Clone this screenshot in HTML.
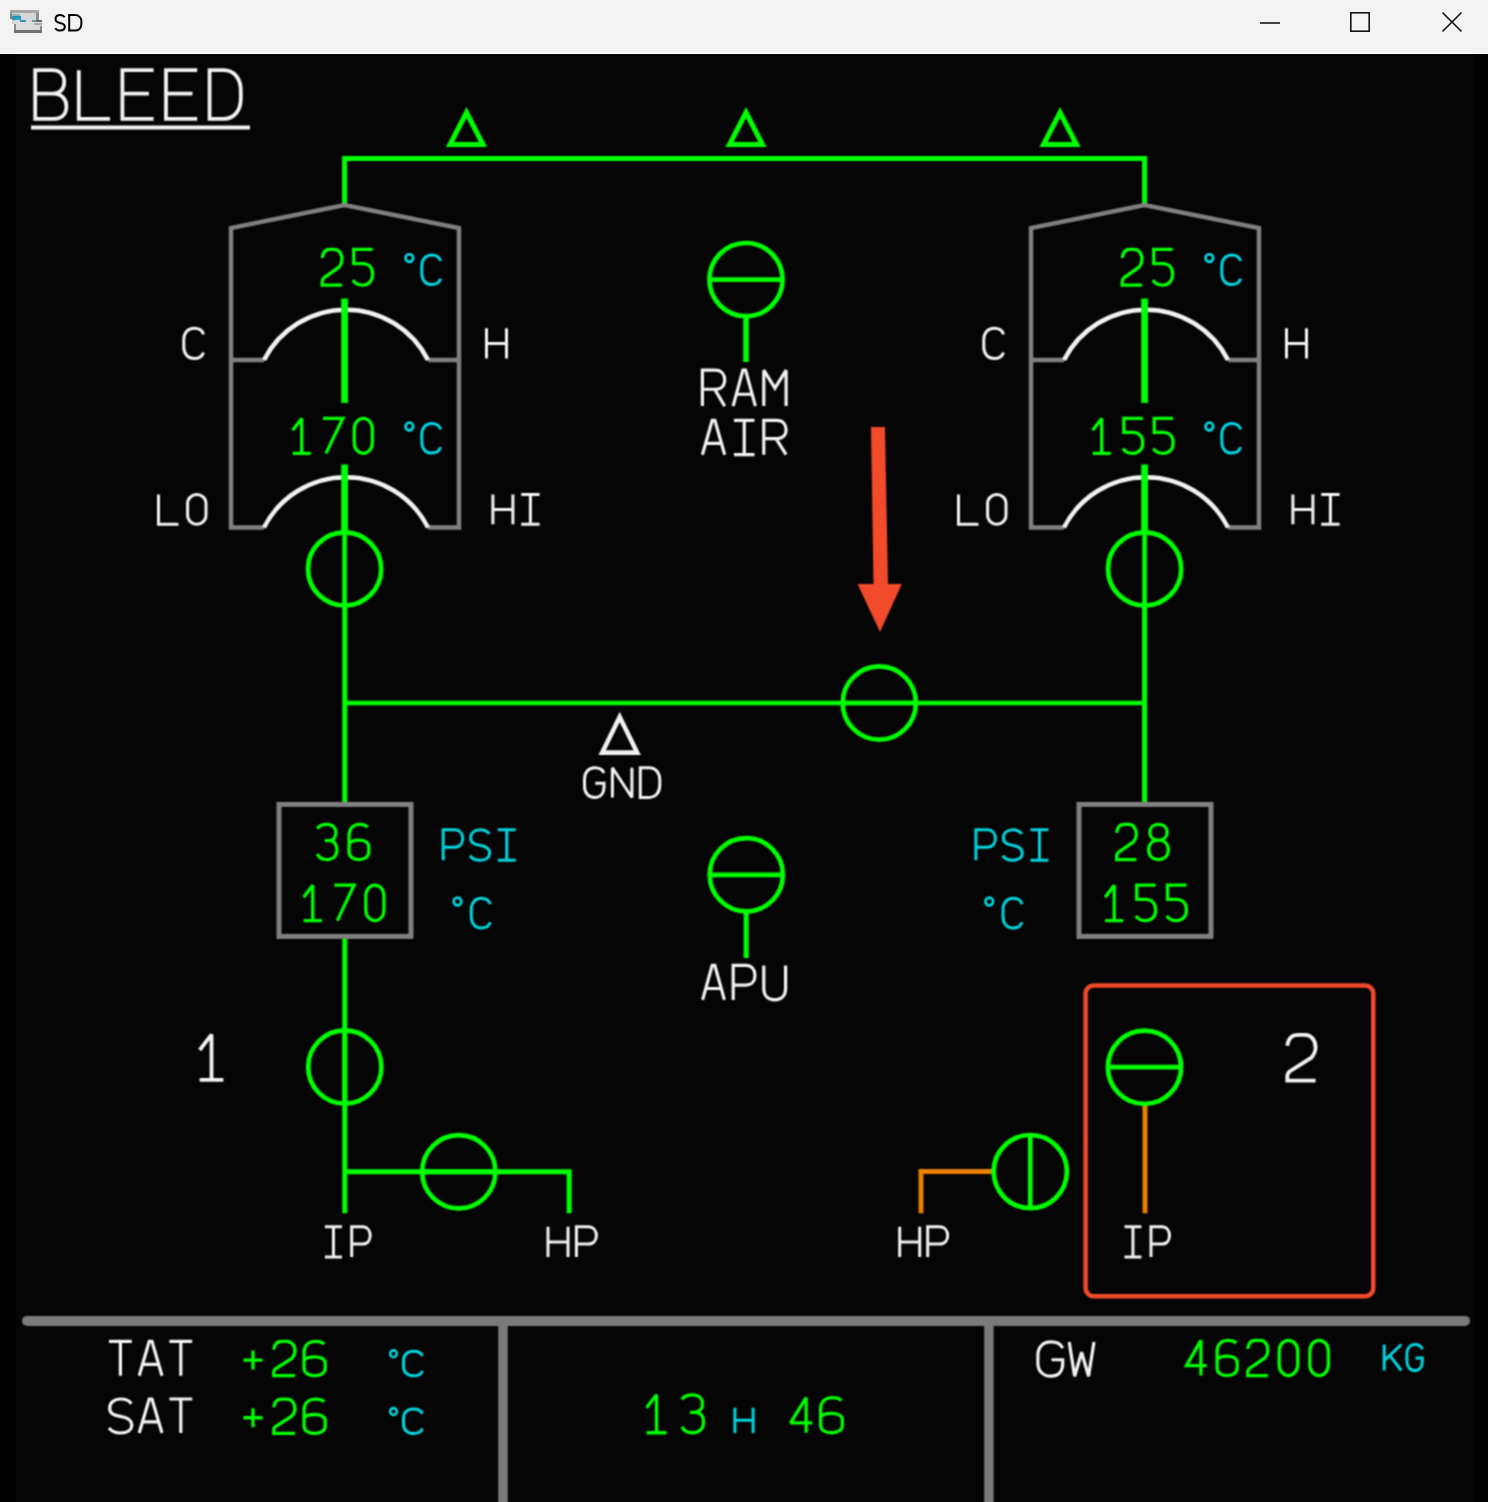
<!DOCTYPE html>
<html><head><meta charset="utf-8"><style>
html,body{margin:0;padding:0;background:#050505;}
body{width:1488px;height:1502px;overflow:hidden;}
svg{display:block;}
</style></head><body>
<svg width="1488" height="1502" viewBox="0 0 1488 1502">
<defs><filter id="soft" x="0" y="0" width="1488" height="1502" filterUnits="userSpaceOnUse" color-interpolation-filters="sRGB"><feConvolveMatrix order="3" kernelMatrix="1 2 1 2 4 2 1 2 1" divisor="16" edgeMode="duplicate" preserveAlpha="false"/></filter></defs>
<rect x="0" y="0" width="1488" height="53" fill="#f3f3f3"/>
<rect x="0" y="53" width="1488" height="1" fill="#ffffff"/>
<rect x="0" y="54" width="1488" height="1448" fill="#050505"/>
<rect x="0" y="54" width="16" height="1448" fill="#010101"/>
<rect x="1474" y="54" width="14" height="1448" fill="#010101"/>
<g shape-rendering="crispEdges"><rect x="10" y="10" width="29" height="3" fill="#a4a4a4"/><rect x="12" y="13" width="26" height="11" fill="#d6d6d6"/><rect x="10" y="13" width="2" height="6" fill="#858585"/><rect x="36" y="13" width="3" height="9" fill="#8c8c8c"/><rect x="12" y="14" width="8" height="2" fill="#9ab4c4"/><rect x="12" y="16" width="9" height="4" fill="#2a92b8"/><rect x="16" y="18" width="4" height="2" fill="#20b0c8"/><rect x="20" y="20" width="6" height="2" fill="#3a90b0"/><rect x="32" y="20" width="4" height="2" fill="#6a9ab0"/><rect x="36" y="20" width="6" height="3" fill="#6a6a6a"/><rect x="14" y="22" width="28" height="8" fill="#dcdcdc"/><rect x="34" y="23" width="8" height="2" fill="#a8a8a8"/><rect x="14" y="24" width="2" height="6" fill="#8a8a8a"/><rect x="40" y="26" width="2" height="4" fill="#8a8a8a"/><rect x="14" y="30" width="28" height="3" fill="#707070"/></g>
<g fill="none"><path d="M 64.61,17.18 C 63.66,15.62 62.14,15 60.24,15 C 57.39,15 55.58,16.72 55.58,19.21 C 55.58,21.86 57.67,22.49 60.05,22.96 C 62.71,23.42 64.8,24.36 64.8,26.86 C 64.8,29.2 62.9,30.6 60.05,30.6 C 57.96,30.6 56.25,29.82 55.3,28.26" stroke="#000" stroke-width="2" stroke-miterlimit="2"/><path d="M 69.2,15 L 69.2,30.6 L 74.69,30.6 C 78.96,30.6 81.4,27.79 81.4,24.05 L 81.4,21.55 C 81.4,17.81 78.96,15 74.69,15 Z" stroke="#000" stroke-width="2" stroke-miterlimit="2"/></g>
<path d="M1260,23 L1280,23" stroke="#111" stroke-width="1.6" fill="none"/>
<rect x="1350.8" y="12.8" width="18.4" height="18.4" stroke="#111" stroke-width="1.6" fill="none"/>
<path d="M1442.5,12.5 L1461.5,31.5 M1461.5,12.5 L1442.5,31.5" stroke="#111" stroke-width="1.6" fill="none"/>
<g filter="url(#soft)"><g fill="none" stroke-linecap="butt">
<path d="M 35.2,93.58 L 53.3,93.58 C 61.72,93.58 66.4,99.42 66.4,106.24 C 66.4,114.03 61.72,118.9 53.92,118.9 L 35.2,118.9 L 35.2,70.2 L 52.36,70.2 C 60.16,70.2 64.22,75.07 64.22,81.89 C 64.22,88.71 60.16,93.58 53.3,93.58 M 78.8,70.2 L 78.8,118.9 L 110,118.9 M 153.6,70.2 L 122.4,70.2 L 122.4,118.9 L 153.6,118.9 M 122.4,93.58 L 148.92,93.58 M 197.2,70.2 L 166,70.2 L 166,118.9 L 197.2,118.9 M 166,93.58 L 192.52,93.58 M 209.6,70.2 L 209.6,118.9 L 223.64,118.9 C 234.56,118.9 240.8,110.13 240.8,98.45 L 240.8,90.65 C 240.8,78.97 234.56,70.2 223.64,70.2 Z" stroke="#f2f2f2" stroke-width="3.8" stroke-miterlimit="2"/>
<path d="M31,127.6 L250,127.6" stroke="#f2f2f2" stroke-width="4"/>
<path d="M344.6,205 L344.6,158.5 L1144.6,158.5 L1144.6,205" stroke="#00ff00" stroke-width="5"/>
<path d="M466.5,112.5 L483,144.5 L450,144.5 Z" stroke="#00ff00" stroke-width="5" stroke-linejoin="miter"/>
<path d="M746,112.5 L762.5,144.5 L729.5,144.5 Z" stroke="#00ff00" stroke-width="5" stroke-linejoin="miter"/>
<path d="M1060,112.5 L1076.5,144.5 L1043.5,144.5 Z" stroke="#00ff00" stroke-width="5" stroke-linejoin="miter"/>
<path d="M264,527.5 L231,527.5 L231,228 L344.6,205 L459,228 L459,527.5 L428,527.5 M231,360 L264,360 M428,360 L459,360" stroke="#808080" stroke-width="4.5" stroke-linejoin="miter"/><path d="M264,360 A92,92 0 0 1 428,360 M264,527.5 A92,92 0 0 1 428,527.5" stroke="#f2f2f2" stroke-width="4.5"/><path d="M344.6,298.5 L344.6,403 M344.6,464.5 L344.6,531" stroke="#00ff00" stroke-width="6.8"/>
<path d="M1064,527.5 L1031,527.5 L1031,228 L1144.6,205 L1259,228 L1259,527.5 L1228,527.5 M1031,360 L1064,360 M1228,360 L1259,360" stroke="#808080" stroke-width="4.5" stroke-linejoin="miter"/><path d="M1064,360 A92,92 0 0 1 1228,360 M1064,527.5 A92,92 0 0 1 1228,527.5" stroke="#f2f2f2" stroke-width="4.5"/><path d="M1144.6,298.5 L1144.6,403 M1144.6,464.5 L1144.6,531" stroke="#00ff00" stroke-width="6.8"/>
<path d="M 322.25,257.92 C 322.84,252.21 325.6,249.35 329.74,249.35 L 334.46,249.35 C 339,249.35 341.95,253.63 341.95,259.35 C 341.95,262.92 340.96,264.7 339,267.2 L 323.83,277.91 C 322.64,278.98 322.25,280.41 322.25,282.19 L 322.25,285.05 L 341.95,285.05 M 372.65,249.35 L 353.74,249.35 L 353.74,263.63 L 362.8,263.63 C 369.1,263.63 372.65,268.27 372.65,274.34 C 372.65,280.77 368.71,285.05 362.8,285.05 C 358.47,285.05 354.92,283.62 352.95,280.05" stroke="#00ff00" stroke-width="3.3" stroke-miterlimit="2"/>
<path d="M 292.65,430.32 L 301.71,418.45 L 301.71,453.35 M 292.65,453.35 L 310.77,453.35 M 323.05,418.45 L 342.75,418.45 L 326,453.35 M 354.24,428.92 A 9.06,10.47 0 0 1 372.36,428.92 L 372.36,442.88 A 9.06,10.47 0 0 1 354.24,442.88 Z" stroke="#00ff00" stroke-width="3.3" stroke-miterlimit="2"/>
<circle cx="409.4" cy="258" r="3.8" stroke="#00d4de" stroke-width="2.8"/>
<path d="M 440.6,260.84 C 439.47,256.98 436.09,254.9 431.58,254.9 C 425.56,254.9 421.8,259.65 421.8,266.19 L 421.8,273.31 C 421.8,279.85 425.56,284.6 431.58,284.6 C 436.09,284.6 439.47,282.52 440.6,278.66" stroke="#00d4de" stroke-width="3" stroke-miterlimit="2"/>
<circle cx="409.4" cy="426.5" r="3.8" stroke="#00d4de" stroke-width="2.8"/>
<path d="M 440.6,429.34 C 439.47,425.48 436.09,423.4 431.58,423.4 C 425.56,423.4 421.8,428.15 421.8,434.69 L 421.8,441.81 C 421.8,448.35 425.56,453.1 431.58,453.1 C 436.09,453.1 439.47,451.02 440.6,447.16" stroke="#00d4de" stroke-width="3" stroke-miterlimit="2"/>
<path d="M 203.5,334.34 C 202.32,330.41 198.77,328.3 194.04,328.3 C 187.74,328.3 183.8,333.13 183.8,339.78 L 183.8,347.02 C 183.8,353.67 187.74,358.5 194.04,358.5 C 198.77,358.5 202.32,356.39 203.5,352.46" stroke="#f2f2f2" stroke-width="3" stroke-miterlimit="2"/>
<path d="M 486.5,328.3 L 486.5,358.5 M 506.5,328.3 L 506.5,358.5 M 486.5,343.4 L 506.5,343.4" stroke="#f2f2f2" stroke-width="3" stroke-miterlimit="2"/>
<path d="M 158.5,494.5 L 158.5,524.3 L 178.5,524.3 M 187.6,503.44 A 9.2,8.94 0 0 1 206,503.44 L 206,515.36 A 9.2,8.94 0 0 1 187.6,515.36 Z" stroke="#f2f2f2" stroke-width="3" stroke-miterlimit="2"/>
<path d="M 492.9,494.5 L 492.9,524.3 M 512.9,494.5 L 512.9,524.3 M 492.9,509.4 L 512.9,509.4 M 530.4,494.5 L 530.4,524.3 M 521.2,494.5 L 539.6,494.5 M 521.2,524.3 L 539.6,524.3" stroke="#f2f2f2" stroke-width="3" stroke-miterlimit="2"/>
<path d="M 1122.25,257.92 C 1122.84,252.21 1125.6,249.35 1129.74,249.35 L 1134.46,249.35 C 1138.99,249.35 1141.95,253.63 1141.95,259.35 C 1141.95,262.92 1140.96,264.7 1138.99,267.2 L 1123.83,277.91 C 1122.64,278.98 1122.25,280.41 1122.25,282.19 L 1122.25,285.05 L 1141.95,285.05 M 1172.65,249.35 L 1153.74,249.35 L 1153.74,263.63 L 1162.8,263.63 C 1169.1,263.63 1172.65,268.27 1172.65,274.34 C 1172.65,280.77 1168.71,285.05 1162.8,285.05 C 1158.47,285.05 1154.92,283.62 1152.95,280.05" stroke="#00ff00" stroke-width="3.3" stroke-miterlimit="2"/>
<path d="M 1092.65,430.32 L 1101.71,418.45 L 1101.71,453.35 M 1092.65,453.35 L 1110.77,453.35 M 1142.75,418.45 L 1123.84,418.45 L 1123.84,432.41 L 1132.9,432.41 C 1139.2,432.41 1142.75,436.95 1142.75,442.88 C 1142.75,449.16 1138.81,453.35 1132.9,453.35 C 1128.57,453.35 1125.02,451.95 1123.05,448.46 M 1173.15,418.45 L 1154.24,418.45 L 1154.24,432.41 L 1163.3,432.41 C 1169.6,432.41 1173.15,436.95 1173.15,442.88 C 1173.15,449.16 1169.21,453.35 1163.3,453.35 C 1158.97,453.35 1155.42,451.95 1153.45,448.46" stroke="#00ff00" stroke-width="3.3" stroke-miterlimit="2"/>
<circle cx="1209.4" cy="258" r="3.8" stroke="#00d4de" stroke-width="2.8"/>
<path d="M 1240.6,260.84 C 1239.47,256.98 1236.09,254.9 1231.58,254.9 C 1225.56,254.9 1221.8,259.65 1221.8,266.19 L 1221.8,273.31 C 1221.8,279.85 1225.56,284.6 1231.58,284.6 C 1236.09,284.6 1239.47,282.52 1240.6,278.66" stroke="#00d4de" stroke-width="3" stroke-miterlimit="2"/>
<circle cx="1209.4" cy="426.5" r="3.8" stroke="#00d4de" stroke-width="2.8"/>
<path d="M 1240.6,429.34 C 1239.47,425.48 1236.09,423.4 1231.58,423.4 C 1225.56,423.4 1221.8,428.15 1221.8,434.69 L 1221.8,441.81 C 1221.8,448.35 1225.56,453.1 1231.58,453.1 C 1236.09,453.1 1239.47,451.02 1240.6,447.16" stroke="#00d4de" stroke-width="3" stroke-miterlimit="2"/>
<path d="M 1003.5,334.34 C 1002.32,330.41 998.77,328.3 994.04,328.3 C 987.74,328.3 983.8,333.13 983.8,339.78 L 983.8,347.02 C 983.8,353.67 987.74,358.5 994.04,358.5 C 998.77,358.5 1002.32,356.39 1003.5,352.46" stroke="#f2f2f2" stroke-width="3" stroke-miterlimit="2"/>
<path d="M 1286.5,328.3 L 1286.5,358.5 M 1306.5,328.3 L 1306.5,358.5 M 1286.5,343.4 L 1306.5,343.4" stroke="#f2f2f2" stroke-width="3" stroke-miterlimit="2"/>
<path d="M 958.5,494.5 L 958.5,524.3 L 978.5,524.3 M 987.6,503.44 A 9.2,8.94 0 0 1 1006,503.44 L 1006,515.36 A 9.2,8.94 0 0 1 987.6,515.36 Z" stroke="#f2f2f2" stroke-width="3" stroke-miterlimit="2"/>
<path d="M 1292.9,494.5 L 1292.9,524.3 M 1312.9,494.5 L 1312.9,524.3 M 1292.9,509.4 L 1312.9,509.4 M 1330.4,494.5 L 1330.4,524.3 M 1321.2,494.5 L 1339.6,494.5 M 1321.2,524.3 L 1339.6,524.3" stroke="#f2f2f2" stroke-width="3" stroke-miterlimit="2"/>
<circle cx="344.6" cy="568.9" r="36.6" stroke="#00ff00" stroke-width="4.7"/><path d="M344.6,532.3 L344.6,605.5" stroke="#00ff00" stroke-width="4.7"/>
<circle cx="1144.6" cy="568.9" r="36.6" stroke="#00ff00" stroke-width="4.7"/><path d="M1144.6,532.3 L1144.6,605.5" stroke="#00ff00" stroke-width="4.7"/>
<circle cx="746" cy="279.6" r="36.6" stroke="#00ff00" stroke-width="4.7"/><path d="M709.4,279.6 L782.6,279.6" stroke="#00ff00" stroke-width="4.7"/>
<path d="M746,318 L746,362" stroke="#00ff00" stroke-width="5.5"/>
<path d="M 702.4,406.1 L 702.4,370.2 L 715.33,370.2 C 721.36,370.2 724.7,374.51 724.7,379.89 C 724.7,385.28 721.36,389.23 715.33,389.23 L 702.4,389.23 M 714.66,389.23 L 724.7,406.1 M 733.1,406.1 L 742.91,370.2 L 745.59,370.2 L 755.4,406.1 M 737.34,394.25 L 751.16,394.25 M 763.8,406.1 L 763.8,370.2 L 774.95,388.15 L 786.1,370.2 L 786.1,406.1" stroke="#f2f2f2" stroke-width="3.2" stroke-miterlimit="2"/>
<path d="M 702.4,454.7 L 712.21,420.4 L 714.89,420.4 L 724.7,454.7 M 706.64,443.38 L 720.46,443.38 M 744.25,420.4 L 744.25,454.7 M 733.99,420.4 L 754.51,420.4 M 733.99,454.7 L 754.51,454.7 M 763.8,454.7 L 763.8,420.4 L 776.73,420.4 C 782.75,420.4 786.1,424.52 786.1,429.66 C 786.1,434.81 782.75,438.58 776.73,438.58 L 763.8,438.58 M 776.06,438.58 L 786.1,454.7" stroke="#f2f2f2" stroke-width="3.2" stroke-miterlimit="2"/>
<path d="M344.8,605 L344.8,802 M1144.6,605 L1144.6,802" stroke="#00ff00" stroke-width="5"/>
<path d="M344.8,703 L1144.6,703" stroke="#00ff00" stroke-width="4.4"/>
<circle cx="879.3" cy="703" r="36.6" stroke="#00ff00" stroke-width="4.7"/><path d="M842.7,703 L915.9,703" stroke="#00ff00" stroke-width="4.7"/>
<path d="M619.7,717 L637.2,752.6 L602.2,752.6 Z" stroke="#f2f2f2" stroke-width="4.6" stroke-linejoin="miter"/>
<path d="M 604,773.06 C 602.63,769.49 599.32,767.7 594.64,767.7 C 588.4,767.7 584.5,772.47 584.5,779.02 L 584.5,786.18 C 584.5,792.73 588.4,797.5 594.64,797.5 C 600.49,797.5 604,793.33 604,786.77 L 604,783.2 L 595.23,783.2 M 612.4,797.5 L 612.4,767.7 L 631.9,797.5 L 631.9,767.7 M 640.3,767.7 L 640.3,797.5 L 649.07,797.5 C 655.9,797.5 659.8,792.14 659.8,784.98 L 659.8,780.22 C 659.8,773.06 655.9,767.7 649.07,767.7 Z" stroke="#f2f2f2" stroke-width="3" stroke-miterlimit="2"/>
<rect x="279" y="804.4" width="132" height="132" stroke="#808080" stroke-width="5"/>
<rect x="1079" y="804.4" width="132" height="132" stroke="#808080" stroke-width="5"/>
<path d="M 317.25,828.57 C 319.22,825.41 322.77,824.35 327.1,824.35 C 332.62,824.35 335.96,827.87 335.96,832.8 C 335.96,837.37 333.01,840.54 329.07,840.54 L 324.74,840.54 M 329.07,840.54 C 334,840.54 336.95,844.06 336.95,849.69 C 336.95,855.68 333.01,859.55 327.1,859.55 C 322.77,859.55 319.22,857.79 317.25,853.92 M 367.76,827.17 C 365.8,825.05 362.84,824.35 359.88,824.35 C 352.99,824.35 349.05,828.93 349.05,835.61 L 349.05,851.81 C 349.05,856.73 352.99,859.55 358.9,859.55 C 364.81,859.55 368.75,856.73 368.75,851.81 L 368.75,846.88 C 368.75,842.65 364.81,840.19 358.9,840.19 C 353.98,840.19 350.04,841.95 349.05,844.06" stroke="#00ff00" stroke-width="3.3" stroke-miterlimit="2"/>
<path d="M 303.65,897.22 L 312.71,885.15 L 312.71,920.65 M 303.65,920.65 L 321.77,920.65 M 334.35,885.15 L 354.05,885.15 L 337.3,920.65 M 365.84,895.8 A 9.06,10.65 0 0 1 383.96,895.8 L 383.96,910 A 9.06,10.65 0 0 1 365.84,910 Z" stroke="#00ff00" stroke-width="3.3" stroke-miterlimit="2"/>
<path d="M 1116.65,832.8 C 1117.24,827.17 1120,824.35 1124.14,824.35 L 1128.86,824.35 C 1133.39,824.35 1136.35,828.57 1136.35,834.21 C 1136.35,837.73 1135.37,839.49 1133.39,841.95 L 1118.23,852.51 C 1117.04,853.57 1116.65,854.97 1116.65,856.73 L 1116.65,859.55 L 1136.35,859.55 M 1158.5,840.19 C 1152.98,840.19 1149.83,836.67 1149.83,832.27 C 1149.83,827.87 1152.98,824.35 1158.5,824.35 C 1164.02,824.35 1167.17,827.87 1167.17,832.27 C 1167.17,836.67 1164.02,840.19 1158.5,840.19 C 1152.59,840.19 1148.65,844.06 1148.65,849.87 C 1148.65,855.68 1152.59,859.55 1158.5,859.55 C 1164.41,859.55 1168.35,855.68 1168.35,849.87 C 1168.35,844.06 1164.41,840.19 1158.5,840.19 Z" stroke="#00ff00" stroke-width="3.3" stroke-miterlimit="2"/>
<path d="M 1105.15,897.22 L 1114.21,885.15 L 1114.21,920.65 M 1105.15,920.65 L 1123.27,920.65 M 1155.65,885.15 L 1136.74,885.15 L 1136.74,899.35 L 1145.8,899.35 C 1152.1,899.35 1155.65,903.97 1155.65,910 C 1155.65,916.39 1151.71,920.65 1145.8,920.65 C 1141.47,920.65 1137.92,919.23 1135.95,915.68 M 1186.45,885.15 L 1167.54,885.15 L 1167.54,899.35 L 1176.6,899.35 C 1182.9,899.35 1186.45,903.97 1186.45,910 C 1186.45,916.39 1182.51,920.65 1176.6,920.65 C 1172.27,920.65 1168.72,919.23 1166.75,915.68" stroke="#00ff00" stroke-width="3.3" stroke-miterlimit="2"/>
<path d="M 443.2,860.2 L 443.2,829.8 L 454.51,829.8 C 459.77,829.8 462.7,833.75 462.7,838.62 C 462.7,843.48 459.77,847.13 454.51,847.13 L 443.2,847.13 M 489.21,834.06 C 487.26,831.02 484.14,829.8 480.24,829.8 C 474.39,829.8 470.68,833.14 470.68,838.01 C 470.68,843.18 474.97,844.39 479.85,845.3 C 485.31,846.22 489.6,848.04 489.6,852.9 C 489.6,857.46 485.7,860.2 479.85,860.2 C 475.56,860.2 472.05,858.68 470.1,855.64 M 506.75,829.8 L 506.75,860.2 M 497.78,829.8 L 515.72,829.8 M 497.78,860.2 L 515.72,860.2" stroke="#00d4de" stroke-width="3" stroke-miterlimit="2"/>
<circle cx="457.5" cy="901.5" r="3.8" stroke="#00d4de" stroke-width="2.8"/>
<path d="M 490.2,904.18 C 489.07,900.29 485.66,898.2 481.13,898.2 C 475.08,898.2 471.3,902.98 471.3,909.56 L 471.3,916.74 C 471.3,923.32 475.08,928.1 481.13,928.1 C 485.66,928.1 489.07,926.01 490.2,922.12" stroke="#00d4de" stroke-width="3" stroke-miterlimit="2"/>
<path d="M 975.9,860.2 L 975.9,829.8 L 987.21,829.8 C 992.48,829.8 995.4,833.75 995.4,838.62 C 995.4,843.48 992.48,847.13 987.21,847.13 L 975.9,847.13 M 1021.91,834.06 C 1019.96,831.02 1016.84,829.8 1012.94,829.8 C 1007.09,829.8 1003.38,833.14 1003.38,838.01 C 1003.38,843.18 1007.67,844.39 1012.55,845.3 C 1018.01,846.22 1022.3,848.04 1022.3,852.9 C 1022.3,857.46 1018.4,860.2 1012.55,860.2 C 1008.26,860.2 1004.75,858.68 1002.8,855.64 M 1039.45,829.8 L 1039.45,860.2 M 1030.48,829.8 L 1048.42,829.8 M 1030.48,860.2 L 1048.42,860.2" stroke="#00d4de" stroke-width="3" stroke-miterlimit="2"/>
<circle cx="989.25" cy="901.5" r="3.8" stroke="#00d4de" stroke-width="2.8"/>
<path d="M 1021.95,904.18 C 1020.82,900.29 1017.41,898.2 1012.88,898.2 C 1006.83,898.2 1003.05,902.98 1003.05,909.56 L 1003.05,916.74 C 1003.05,923.32 1006.83,928.1 1012.88,928.1 C 1017.41,928.1 1020.82,926.01 1021.95,922.12" stroke="#00d4de" stroke-width="3" stroke-miterlimit="2"/>
<circle cx="746.3" cy="874.8" r="36.6" stroke="#00ff00" stroke-width="4.7"/><path d="M709.7,874.8 L782.9,874.8" stroke="#00ff00" stroke-width="4.7"/>
<path d="M746.2,912 L746.2,958" stroke="#00ff00" stroke-width="5"/>
<path d="M 702.6,999.9 L 712.19,965.4 L 714.81,965.4 L 724.4,999.9 M 706.74,988.51 L 720.26,988.51 M 733.2,999.9 L 733.2,965.4 L 745.84,965.4 C 751.73,965.4 755,969.88 755,975.4 C 755,980.92 751.73,985.06 745.84,985.06 L 733.2,985.06 M 763.8,965.4 L 763.8,988.86 C 763.8,995.76 768.16,999.9 774.7,999.9 C 781.24,999.9 785.6,995.76 785.6,988.86 L 785.6,965.4" stroke="#f2f2f2" stroke-width="3.2" stroke-miterlimit="2"/>
<path d="M344.8,939 L344.8,1213.2 M344.8,1171.8 L569.2,1171.8 L569.2,1213.2" stroke="#00ff00" stroke-width="5" stroke-linejoin="miter"/>
<circle cx="344.8" cy="1067" r="36.6" stroke="#00ff00" stroke-width="4.7"/><path d="M344.8,1030.4 L344.8,1103.6" stroke="#00ff00" stroke-width="4.7"/>
<circle cx="458.8" cy="1171.8" r="36.6" stroke="#00ff00" stroke-width="4.7"/><path d="M422.2,1171.8 L495.4,1171.8" stroke="#00ff00" stroke-width="4.7"/>
<path d="M 199.7,1049.97 L 211.52,1034.6 L 211.52,1079.8 M 199.7,1079.8 L 223.34,1079.8" stroke="#f2f2f2" stroke-width="3.8" stroke-miterlimit="2"/>
<path d="M 333.45,1226.8 L 333.45,1257.1 M 324.94,1226.8 L 341.96,1226.8 M 324.94,1257.1 L 341.96,1257.1 M 351.7,1257.1 L 351.7,1226.8 L 362.43,1226.8 C 367.43,1226.8 370.2,1230.74 370.2,1235.59 C 370.2,1240.43 367.43,1244.07 362.43,1244.07 L 351.7,1244.07" stroke="#f2f2f2" stroke-width="3" stroke-miterlimit="2"/>
<path d="M 548,1226.8 L 548,1257.1 M 568,1226.8 L 568,1257.1 M 548,1241.95 L 568,1241.95 M 576.4,1257.1 L 576.4,1226.8 L 588,1226.8 C 593.4,1226.8 596.4,1230.74 596.4,1235.59 C 596.4,1240.43 593.4,1244.07 588,1244.07 L 576.4,1244.07" stroke="#f2f2f2" stroke-width="3" stroke-miterlimit="2"/>
<path d="M992,1171.6 L921,1171.6 L921,1213.2 M1145,1105 L1145,1213.2" stroke="#e88000" stroke-width="5" stroke-linejoin="miter"/>
<circle cx="1144.5" cy="1067.2" r="36.6" stroke="#00ff00" stroke-width="4.7"/><path d="M1107.9,1067.2 L1181.1,1067.2" stroke="#00ff00" stroke-width="4.7"/>
<circle cx="1030.3" cy="1171.6" r="36.6" stroke="#00ff00" stroke-width="4.7"/><path d="M1030.3,1135 L1030.3,1208.2" stroke="#00ff00" stroke-width="4.7"/>
<path d="M 1287.3,1045.79 C 1288.15,1038.46 1292.11,1034.8 1298.05,1034.8 L 1304.85,1034.8 C 1311.36,1034.8 1315.6,1040.3 1315.6,1047.62 C 1315.6,1052.2 1314.19,1054.49 1311.36,1057.7 L 1289.56,1071.44 C 1287.87,1072.81 1287.3,1074.65 1287.3,1076.94 L 1287.3,1080.6 L 1315.6,1080.6" stroke="#f2f2f2" stroke-width="3.8" stroke-miterlimit="2"/>
<path d="M 899.7,1226.8 L 899.7,1257.1 M 919.7,1226.8 L 919.7,1257.1 M 899.7,1241.95 L 919.7,1241.95 M 927.7,1257.1 L 927.7,1226.8 L 939.3,1226.8 C 944.7,1226.8 947.7,1230.74 947.7,1235.59 C 947.7,1240.43 944.7,1244.07 939.3,1244.07 L 927.7,1244.07" stroke="#f2f2f2" stroke-width="3" stroke-miterlimit="2"/>
<path d="M 1132.95,1226.8 L 1132.95,1257.1 M 1124.44,1226.8 L 1141.46,1226.8 M 1124.44,1257.1 L 1141.46,1257.1 M 1151,1257.1 L 1151,1226.8 L 1161.73,1226.8 C 1166.72,1226.8 1169.5,1230.74 1169.5,1235.59 C 1169.5,1240.43 1166.72,1244.07 1161.73,1244.07 L 1151,1244.07" stroke="#f2f2f2" stroke-width="3" stroke-miterlimit="2"/>
<rect x="1085.6" y="985.6" width="287.7" height="310.7" rx="8" stroke="#f24b2b" stroke-width="4.5"/>
<path d="M871,427 L885,427 L888,584 L901.8,584 L880,632 L857.5,584 L873.5,584 Z" fill="#f24b2b" stroke="none"/>
<path d="M27,1320.9 L1465,1320.9" stroke="#7a7a7a" stroke-width="10" stroke-linecap="round"/>
<path d="M503,1320 L503,1502 M988.9,1320 L988.9,1502" stroke="#7a7a7a" stroke-width="9.5"/>
<path d="M 109,1341.3 L 131.8,1341.3 M 120.4,1341.3 L 120.4,1375.7 M 139.2,1375.7 L 149.23,1341.3 L 151.97,1341.3 L 162,1375.7 M 143.53,1364.35 L 157.67,1364.35 M 169.4,1341.3 L 192.2,1341.3 M 180.8,1341.3 L 180.8,1375.7" stroke="#f2f2f2" stroke-width="3.2" stroke-miterlimit="2"/>
<path d="M 131.34,1403.76 C 129.06,1400.36 125.42,1399 120.86,1399 C 114.02,1399 109.68,1402.74 109.68,1408.18 C 109.68,1413.96 114.7,1415.32 120.4,1416.34 C 126.78,1417.36 131.8,1419.4 131.8,1424.84 C 131.8,1429.94 127.24,1433 120.4,1433 C 115.38,1433 111.28,1431.3 109,1427.9 M 139.2,1433 L 149.23,1399 L 151.97,1399 L 162,1433 M 143.53,1421.78 L 157.67,1421.78 M 169.4,1399 L 192.2,1399 M 180.8,1399 L 180.8,1433" stroke="#f2f2f2" stroke-width="3.2" stroke-miterlimit="2"/>
<path d="M 252.99,1350.61 L 252.99,1369.48 M 243.45,1360.04 L 262.53,1360.04 M 273.75,1349.58 C 274.39,1344.09 277.35,1341.35 281.81,1341.35 L 286.89,1341.35 C 291.77,1341.35 294.95,1345.47 294.95,1350.95 C 294.95,1354.38 293.89,1356.1 291.77,1358.5 L 275.45,1368.79 C 274.17,1369.82 273.75,1371.19 273.75,1372.91 L 273.75,1375.65 L 294.95,1375.65 M 324.19,1344.09 C 322.07,1342.04 318.89,1341.35 315.71,1341.35 C 308.29,1341.35 304.05,1345.81 304.05,1352.33 L 304.05,1368.1 C 304.05,1372.91 308.29,1375.65 314.65,1375.65 C 321.01,1375.65 325.25,1372.91 325.25,1368.1 L 325.25,1363.3 C 325.25,1359.19 321.01,1356.79 314.65,1356.79 C 309.35,1356.79 305.11,1358.5 304.05,1360.56" stroke="#00ff00" stroke-width="3.3" stroke-miterlimit="2"/>
<circle cx="393.5" cy="1353.8" r="3.4" stroke="#00d4de" stroke-width="2.6"/>
<path d="M 422.4,1356.12 C 421.27,1352.92 417.86,1351.2 413.33,1351.2 C 407.28,1351.2 403.5,1355.14 403.5,1360.55 L 403.5,1366.45 C 403.5,1371.86 407.28,1375.8 413.33,1375.8 C 417.86,1375.8 421.27,1374.08 422.4,1370.88" stroke="#00d4de" stroke-width="3" stroke-miterlimit="2"/>
<path d="M 252.99,1408.31 L 252.99,1427.18 M 243.45,1417.74 L 262.53,1417.74 M 273.75,1407.28 C 274.39,1401.79 277.35,1399.05 281.81,1399.05 L 286.89,1399.05 C 291.77,1399.05 294.95,1403.17 294.95,1408.65 C 294.95,1412.08 293.89,1413.8 291.77,1416.2 L 275.45,1426.49 C 274.17,1427.52 273.75,1428.89 273.75,1430.61 L 273.75,1433.35 L 294.95,1433.35 M 324.19,1401.79 C 322.07,1399.74 318.89,1399.05 315.71,1399.05 C 308.29,1399.05 304.05,1403.51 304.05,1410.03 L 304.05,1425.8 C 304.05,1430.61 308.29,1433.35 314.65,1433.35 C 321.01,1433.35 325.25,1430.61 325.25,1425.8 L 325.25,1421 C 325.25,1416.89 321.01,1414.49 314.65,1414.49 C 309.35,1414.49 305.11,1416.2 304.05,1418.26" stroke="#00ff00" stroke-width="3.3" stroke-miterlimit="2"/>
<circle cx="393.5" cy="1411.5" r="3.4" stroke="#00d4de" stroke-width="2.6"/>
<path d="M 422.4,1413.82 C 421.27,1410.62 417.86,1408.9 413.33,1408.9 C 407.28,1408.9 403.5,1412.84 403.5,1418.25 L 403.5,1424.15 C 403.5,1429.56 407.28,1433.5 413.33,1433.5 C 417.86,1433.5 421.27,1431.78 422.4,1428.58" stroke="#00d4de" stroke-width="3" stroke-miterlimit="2"/>
<path d="M 646.55,1407.74 L 656.53,1394.85 L 656.53,1432.75 M 646.55,1432.75 L 666.51,1432.75 M 681.85,1399.4 C 684.02,1395.99 687.93,1394.85 692.7,1394.85 C 698.78,1394.85 702.46,1398.64 702.46,1403.95 C 702.46,1408.87 699.21,1412.28 694.87,1412.28 L 690.1,1412.28 M 694.87,1412.28 C 700.29,1412.28 703.55,1416.07 703.55,1422.14 C 703.55,1428.58 699.21,1432.75 692.7,1432.75 C 687.93,1432.75 684.02,1430.86 681.85,1426.69" stroke="#00ff00" stroke-width="3.3" stroke-miterlimit="2"/>
<path d="M 734.9,1407.75 L 734.9,1432.9 M 753.1,1407.75 L 753.1,1432.9 M 734.9,1420.33 L 753.1,1420.33" stroke="#00d4de" stroke-width="3" stroke-miterlimit="2"/>
<path d="M 806.17,1432.75 L 806.17,1397.65 L 790.55,1422.92 L 812.25,1422.92 M 841.26,1400.46 C 839.1,1398.35 835.84,1397.65 832.58,1397.65 C 824.99,1397.65 820.65,1402.21 820.65,1408.88 L 820.65,1425.03 C 820.65,1429.94 824.99,1432.75 831.5,1432.75 C 838.01,1432.75 842.35,1429.94 842.35,1425.03 L 842.35,1420.11 C 842.35,1415.9 838.01,1413.45 831.5,1413.45 C 826.07,1413.45 821.74,1415.2 820.65,1417.31" stroke="#00ff00" stroke-width="3.3" stroke-miterlimit="2"/>
<path d="M 1062.7,1348.07 C 1060.96,1343.96 1056.75,1341.9 1050.8,1341.9 C 1042.86,1341.9 1037.9,1347.39 1037.9,1354.93 L 1037.9,1363.17 C 1037.9,1370.71 1042.86,1376.2 1050.8,1376.2 C 1058.24,1376.2 1062.7,1371.4 1062.7,1363.85 L 1062.7,1359.74 L 1051.54,1359.74 M 1069.2,1341.9 L 1074.66,1376.2 L 1081.6,1352.19 L 1088.54,1376.2 L 1094,1341.9" stroke="#f2f2f2" stroke-width="3.2" stroke-miterlimit="2"/>
<path d="M 1200.92,1375.55 L 1200.92,1340.35 L 1186.45,1365.69 L 1206.55,1365.69 M 1236.2,1343.17 C 1234.19,1341.05 1231.17,1340.35 1228.16,1340.35 C 1221.12,1340.35 1217.1,1344.93 1217.1,1351.61 L 1217.1,1367.81 C 1217.1,1372.73 1221.12,1375.55 1227.15,1375.55 C 1233.18,1375.55 1237.2,1372.73 1237.2,1367.81 L 1237.2,1362.88 C 1237.2,1358.65 1233.18,1356.19 1227.15,1356.19 C 1222.13,1356.19 1218.11,1357.95 1217.1,1360.06 M 1247.75,1348.8 C 1248.35,1343.17 1251.17,1340.35 1255.39,1340.35 L 1260.21,1340.35 C 1264.84,1340.35 1267.85,1344.57 1267.85,1350.21 C 1267.85,1353.73 1266.85,1355.49 1264.84,1357.95 L 1249.36,1368.51 C 1248.15,1369.57 1247.75,1370.97 1247.75,1372.73 L 1247.75,1375.55 L 1267.85,1375.55 M 1279.2,1350.91 A 9.25,10.56 0 0 1 1297.7,1350.91 L 1297.7,1364.99 A 9.25,10.56 0 0 1 1279.2,1364.99 Z M 1309.85,1350.91 A 9.25,10.56 0 0 1 1328.35,1350.91 L 1328.35,1364.99 A 9.25,10.56 0 0 1 1309.85,1364.99 Z" stroke="#00ff00" stroke-width="3.3" stroke-miterlimit="2"/>
<path d="M 1384.2,1344.5 L 1384.2,1370.5 M 1401.3,1344.5 L 1384.2,1360.62 M 1389.67,1355.42 L 1401.3,1370.5" stroke="#00d4de" stroke-width="3" stroke-miterlimit="2"/>
<path d="M 1422.3,1349.18 C 1421.22,1346.06 1418.6,1344.5 1414.91,1344.5 C 1409.98,1344.5 1406.9,1348.66 1406.9,1354.38 L 1406.9,1360.62 C 1406.9,1366.34 1409.98,1370.5 1414.91,1370.5 C 1419.53,1370.5 1422.3,1366.86 1422.3,1361.14 L 1422.3,1358.02 L 1415.37,1358.02" stroke="#00d4de" stroke-width="3" stroke-miterlimit="2"/>
</g></g>
</svg>
</body></html>
